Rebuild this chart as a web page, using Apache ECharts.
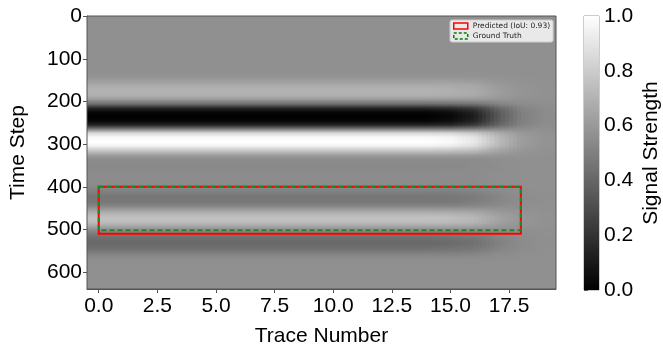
<!DOCTYPE html>
<html>
<head>
<meta charset="utf-8">
<script src="https://cdn.jsdelivr.net/npm/echarts@6/dist/echarts.min.js"></script>
<style>
  html, body { margin: 0; padding: 0; background: #fff; }
  #chart { width: 663px; height: 352px; }
</style>
</head>
<body>
<div id="chart"></div>
<script>
// time rows: each cell covers 10 time steps starting at the value below
var timeRows = [0, 10, 20, 30, 40, 50, 60, 70, 80, 90, 100, 110, 120, 130, 140, 150,
  160, 170, 180, 190, 200, 210, 220, 230, 240, 250, 260, 270, 280, 290, 300, 310,
  320, 330, 340, 350, 360, 370, 380, 390, 400, 410, 420, 430, 440, 450, 460, 470,
  480, 490, 500, 510, 520, 530, 540, 550, 560, 570, 580, 590, 600, 610, 620, 630];

// signal, one column per trace (top to bottom)
var traceFull = [0.565, 0.565, 0.565, 0.565, 0.565, 0.565, 0.565, 0.565, 0.565, 0.565, 0.565, 0.565, 0.565,
  0.57, 0.59, 0.63, 0.68, 0.70, 0.69, 0.62, 0.45, 0.16, 0.03, 0.0, 0.02, 0.14, 0.48, 0.84, 0.98, 1.0, 0.95,
  0.78, 0.62, 0.55, 0.54, 0.54, 0.545, 0.55, 0.55, 0.545, 0.52, 0.49, 0.46, 0.47, 0.52, 0.62, 0.71, 0.76,
  0.73, 0.63, 0.52, 0.45, 0.42, 0.41, 0.44, 0.50, 0.54, 0.555,
  0.565, 0.565, 0.565, 0.565, 0.565, 0.565];
var trace15 = [0.565, 0.565, 0.565, 0.565, 0.565, 0.565, 0.565, 0.565, 0.565, 0.565, 0.565, 0.565, 0.565,
  0.57, 0.59, 0.63, 0.67, 0.69, 0.68, 0.62, 0.46, 0.18, 0.06, 0.03, 0.05, 0.16, 0.48, 0.83, 0.96, 0.98, 0.93,
  0.77, 0.62, 0.55, 0.54, 0.54, 0.55, 0.55, 0.55, 0.55, 0.52, 0.49, 0.47, 0.47, 0.52, 0.62, 0.70, 0.75,
  0.72, 0.63, 0.52, 0.46, 0.43, 0.42, 0.45, 0.50, 0.54, 0.56,
  0.565, 0.565, 0.565, 0.565, 0.565, 0.565];
var trace16 = [0.565, 0.565, 0.565, 0.565, 0.565, 0.565, 0.565, 0.565, 0.565, 0.565, 0.565, 0.565, 0.565,
  0.57, 0.585, 0.62, 0.66, 0.67, 0.665, 0.61, 0.47, 0.24, 0.14, 0.11, 0.13, 0.23, 0.50, 0.785, 0.90, 0.915, 0.87,
  0.74, 0.61, 0.55, 0.545, 0.545, 0.55, 0.55, 0.55, 0.55, 0.53, 0.505, 0.48, 0.49, 0.53, 0.61, 0.68, 0.72,
  0.70, 0.62, 0.53, 0.47, 0.45, 0.44, 0.465, 0.51, 0.545, 0.56,
  0.565, 0.565, 0.565, 0.565, 0.565, 0.565];
var trace17 = [0.565, 0.565, 0.565, 0.565, 0.565, 0.565, 0.565, 0.565, 0.565, 0.565, 0.565, 0.565, 0.565,
  0.565, 0.575, 0.59, 0.61, 0.62, 0.615, 0.59, 0.52, 0.40, 0.35, 0.34, 0.35, 0.395, 0.53, 0.675, 0.73, 0.74, 0.72,
  0.65, 0.59, 0.56, 0.555, 0.555, 0.557, 0.56, 0.56, 0.557, 0.547, 0.535, 0.523, 0.527, 0.547, 0.587, 0.623, 0.643,
  0.631, 0.591, 0.547, 0.519, 0.507, 0.503, 0.515, 0.539, 0.555, 0.561,
  0.565, 0.565, 0.565, 0.565, 0.565, 0.565];
var trace18 = [0.565, 0.565, 0.565, 0.565, 0.565, 0.565, 0.565, 0.565, 0.565, 0.565, 0.565, 0.565, 0.565,
  0.565, 0.568, 0.573, 0.579, 0.581, 0.58, 0.572, 0.551, 0.516, 0.501, 0.497, 0.50, 0.514, 0.555, 0.598, 0.615, 0.617, 0.611,
  0.591, 0.572, 0.563, 0.563, 0.563, 0.563, 0.563, 0.563, 0.563, 0.56, 0.556, 0.552, 0.554, 0.56, 0.572, 0.582, 0.588,
  0.585, 0.573, 0.56, 0.551, 0.548, 0.546, 0.55, 0.557, 0.562, 0.564,
  0.565, 0.565, 0.565, 0.565, 0.565, 0.565];
var trace19 = [0.565, 0.565, 0.565, 0.565, 0.565, 0.565, 0.565, 0.565, 0.565, 0.565, 0.565, 0.565, 0.565,
  0.565, 0.565, 0.567, 0.568, 0.569, 0.568, 0.566, 0.56, 0.553, 0.55, 0.549, 0.55, 0.553, 0.563, 0.572, 0.575, 0.575, 0.574,
  0.57, 0.566, 0.565, 0.565, 0.565, 0.565, 0.565, 0.565, 0.565, 0.564, 0.563, 0.562, 0.563, 0.564, 0.566, 0.568, 0.569,
  0.568, 0.566, 0.564, 0.563, 0.562, 0.562, 0.563, 0.564, 0.565, 0.565,
  0.565, 0.565, 0.565, 0.565, 0.565, 0.565];

// traces 0..19
var traceColumns = [traceFull, traceFull, traceFull, traceFull, traceFull, traceFull, traceFull,
  traceFull, traceFull, traceFull, traceFull, traceFull, traceFull, traceFull, traceFull,
  trace15, trace16, trace17, trace18, trace19];

var xTicks = [0, 2.5, 5, 7.5, 10, 12.5, 15, 17.5];
var yTicks = [0, 100, 200, 300, 400, 500, 600];

// boxes: [xStart, tStart, xEnd, tEnd]
var predBox = [0, 400, 18, 510];
var truthBox = [0, 400, 18, 502];

// cell: [trace, rowStart, value, rowIndex]
var cells = [];
traceColumns.forEach(function (col, x) {
  col.forEach(function (v, r) {
    cells.push([x, timeRows[r], v, r]);
  });
});

// smooth shading between cell centres (like imshow's bilinear look)
var nCols = traceColumns.length, nRows = timeRows.length;
function sample(xf, rf) {
  xf = Math.max(0, Math.min(nCols - 1, xf));
  rf = Math.max(0, Math.min(nRows - 1, rf));
  var x0 = Math.floor(xf), x1 = Math.min(x0 + 1, nCols - 1), fx = xf - x0;
  var r0 = Math.floor(rf), r1 = Math.min(r0 + 1, nRows - 1), fr = rf - r0;
  var a = traceColumns[x0][r0] * (1 - fx) + traceColumns[x1][r0] * fx;
  var b = traceColumns[x0][r1] * (1 - fx) + traceColumns[x1][r1] * fx;
  return a * (1 - fr) + b * fr;
}
function gray(v) {
  var g = Math.round(255 * Math.max(0, Math.min(1, v)));
  return 'rgb(' + g + ',' + g + ',' + g + ')';
}
function vGrad(xf, r) {
  return new echarts.graphic.LinearGradient(0, 0, 0, 1, [
    { offset: 0, color: gray(sample(xf, r - 0.5)) },
    { offset: 0.5, color: gray(sample(xf, r)) },
    { offset: 1, color: gray(sample(xf, r + 0.5)) }
  ]);
}

var chart = echarts.init(document.getElementById('chart'));
var font = 'Liberation Sans, Arial, sans-serif';

function boxRender(color, dash) {
  return function (params, api) {
    var p0 = api.coord([api.value(0), api.value(1)]);
    var p1 = api.coord([api.value(2), api.value(3)]);
    return {
      type: 'rect',
      shape: { x: p0[0], y: p0[1], width: p1[0] - p0[0], height: p1[1] - p0[1] },
      style: { fill: 'none', stroke: color, lineWidth: 2, lineDash: dash }
    };
  };
}

var option = {
  animation: false,
  grid: [
    { left: 86, top: 16, width: 470, height: 274, show: true, borderColor: '#555', borderWidth: 1, backgroundColor: 'transparent', z: 5 },
    { left: 584, top: 16, width: 15, height: 274, show: true, borderColor: '#999', borderWidth: 1 }
  ],
  xAxis: [{
    gridIndex: 0, type: 'value', min: -0.5, max: 19.5,
    name: 'Trace Number', nameLocation: 'middle', nameGap: 37,
    nameTextStyle: { fontFamily: font, fontSize: 21, color: '#000' },
    axisLine: { show: true, onZero: false, lineStyle: { color: '#555' } },
    axisTick: { show: true, customValues: xTicks, length: 4, lineStyle: { color: '#555' } },
    axisLabel: { customValues: xTicks, fontFamily: font, fontSize: 21, color: '#000', margin: 7,
      formatter: function (v) { return v.toFixed(1); } },
    splitLine: { show: false }
  }, {
    gridIndex: 1, type: 'value', min: 0, max: 1, show: false
  }],
  yAxis: [{
    gridIndex: 0, type: 'value', min: -0.5, max: 639.5, inverse: true,
    name: 'Time Step', nameLocation: 'middle', nameGap: 58,
    nameTextStyle: { fontFamily: font, fontSize: 21, color: '#000' },
    axisLine: { show: true, onZero: false, lineStyle: { color: '#555' } },
    axisTick: { show: true, customValues: yTicks, length: 4, lineStyle: { color: '#555' } },
    axisLabel: { customValues: yTicks, fontFamily: font, fontSize: 21, color: '#000', margin: 5 },
    splitLine: { show: false }
  }, {
    gridIndex: 1, type: 'value', min: 0, max: 1, interval: 0.2, position: 'right',
    name: 'Signal Strength', nameLocation: 'middle', nameGap: 42, nameRotate: 90,
    nameTextStyle: { fontFamily: font, fontSize: 21, color: '#000' },
    axisLine: { show: false },
    axisTick: { show: true, length: 4, lineStyle: { color: '#555' } },
    axisLabel: { fontFamily: font, fontSize: 21, color: '#000', margin: 5,
      formatter: function (v) { return v.toFixed(1); } },
    splitLine: { show: false }
  }],
  visualMap: {
    show: false, type: 'continuous', min: 0, max: 1, dimension: 2, seriesIndex: 0,
    inRange: { color: ['#000000', '#ffffff'] }
  },
  legend: {
    orient: 'vertical', left: 450, top: 20,
    itemWidth: 14, itemHeight: 6, itemGap: 2,
    padding: [2, 3, 2, 3],
    backgroundColor: 'rgba(255,255,255,0.8)', borderColor: '#ccc', borderWidth: 1, borderRadius: 2,
    textStyle: { fontFamily: 'DejaVu Sans', fontSize: 7.5, color: '#222' },
    data: [
      { name: 'Predicted (IoU: 0.93)', icon: 'rect',
        itemStyle: { color: 'rgba(255,255,255,0)', borderColor: '#ff0000', borderWidth: 1.5 } },
      { name: 'Ground Truth', icon: 'rect',
        itemStyle: { color: 'rgba(255,255,255,0)', borderColor: '#008000', borderWidth: 1.5, borderType: [3, 2] } }
    ]
  },
  series: [{
    type: 'custom', xAxisIndex: 0, yAxisIndex: 0, data: cells, z: 1,
    renderItem: function (params, api) {
      var x = api.value(0), t = api.value(1), r = api.value(3);
      var p0 = api.coord([x - 0.5, t - 0.5]);
      var p1 = api.coord([x + 0.5, t + 9.5]);
      var x0 = Math.round(p0[0]), y0 = Math.round(p0[1]);
      var x1 = Math.round(p1[0]), y1 = Math.round(p1[1]);
      var col = traceColumns[x];
      var left = traceColumns[x - 1] || col, right = traceColumns[x + 1] || col;
      var flat = true;
      for (var k = Math.max(0, r - 1); k <= Math.min(nRows - 1, r + 1); k++) {
        if (left[k] !== col[k] || right[k] !== col[k]) flat = false;
      }
      if (flat) {
        return {
          type: 'rect',
          shape: { x: x0, y: y0, width: x1 - x0, height: y1 - y0 },
          style: { fill: vGrad(x, r) }
        };
      }
      var n = 6, kids = [];
      for (var s = 0; s < n; s++) {
        var sx0 = Math.round(x0 + (x1 - x0) * s / n);
        var sx1 = Math.round(x0 + (x1 - x0) * (s + 1) / n);
        var xf = x - 0.5 + (s + 0.5) / n;
        kids.push({
          type: 'rect',
          shape: { x: sx0, y: y0, width: sx1 - sx0, height: y1 - y0 },
          style: { fill: vGrad(xf, r) }
        });
      }
      return { type: 'group', children: kids };
    }
  }, {
    type: 'custom', name: 'Predicted (IoU: 0.93)', xAxisIndex: 0, yAxisIndex: 0, z: 3,
    data: [predBox], itemStyle: { color: '#ff0000' },
    renderItem: boxRender('#ff0000', null)
  }, {
    type: 'custom', name: 'Ground Truth', xAxisIndex: 0, yAxisIndex: 0, z: 4,
    data: [truthBox], itemStyle: { color: '#008000' },
    renderItem: boxRender('#1a8a2a', [5, 3])
  }, {
    type: 'custom', xAxisIndex: 1, yAxisIndex: 1, data: [[0, 1, 1, 0]], silent: true,
    renderItem: function (params, api) {
      var p0 = api.coord([api.value(0), api.value(1)]);
      var p1 = api.coord([api.value(2), api.value(3)]);
      return {
        type: 'rect',
        shape: { x: p0[0], y: p0[1], width: p1[0] - p0[0], height: p1[1] - p0[1] },
        style: {
          fill: new echarts.graphic.LinearGradient(0, 0, 0, 1, [
            { offset: 0, color: '#ffffff' }, { offset: 1, color: '#000000' }
          ])
        }
      };
    }
  }]
};

chart.setOption(option);
</script>
</body>
</html>
